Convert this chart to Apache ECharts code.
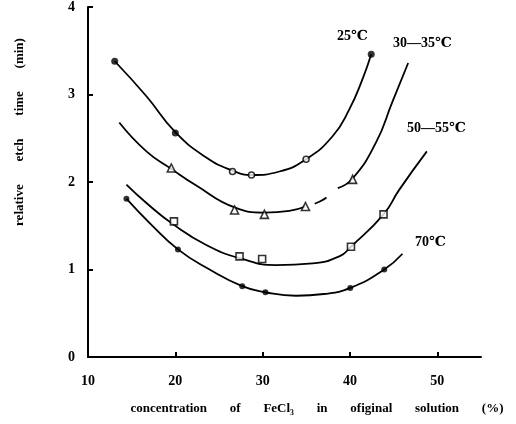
<!DOCTYPE html>
<html>
<head>
<meta charset="utf-8">
<script src="https://cdn.jsdelivr.net/npm/echarts@6/dist/echarts.min.js"></script>
<style>
html,body{margin:0;padding:0;background:#fff;}
#chart{width:516px;height:424px;}
</style>
</head>
<body>
<div id="chart"></div>
<script>
// ---- data ----
var xTicks = [10, 20, 30, 40, 50];
var yTicks = [0, 1, 2, 3, 4];

// fitted curves (x = FeCl3 %, y = relative etch time, min)
var curve25 = [[13.06,3.38],[16.69,2.98],[20.0,2.57],[23.54,2.28],[26.55,2.13],[28.72,2.08],[31.92,2.12],[34.97,2.26],[37.98,2.52],[39.92,2.83],[41.41,3.17],[42.43,3.46]];
var curve3035a = [[13.58,2.68],[16.69,2.35],[19.54,2.15],[22.4,1.96],[26.78,1.71],[30.2,1.65],[33.06,1.67],[34.9,1.72]];
var curve3035dash = [[34.9,1.72],[36.6,1.78],[38.0,1.88],[38.6,1.93]];
var curve3035b = [[38.6,1.93],[40.3,2.04],[42.97,2.45],[44.83,2.91],[46.66,3.36]];
var curve5055 = [[14.4,1.97],[16.69,1.76],[19.84,1.51],[23.54,1.28],[27.35,1.13],[31.54,1.05],[35.73,1.07],[38.78,1.15],[40.11,1.26],[43.84,1.63],[45.63,1.91],[48.8,2.35]];
var curve70 = [[14.4,1.81],[17.07,1.53],[20.3,1.23],[23.92,1.0],[27.66,0.81],[30.32,0.74],[33.83,0.70],[37.0,0.72],[40.03,0.79],[43.92,1.0],[46.01,1.18]];

// measured points
var pts25Filled = [[13.06,3.38],[20.0,2.56],[42.43,3.46]];
var pts25Open = [[26.55,2.12],[28.72,2.08],[34.97,2.26]];
var pts3035 = [[19.54,2.16],[26.78,1.68],[30.2,1.63],[34.9,1.72],[40.3,2.03]];
var pts5055 = [[19.84,1.55],[27.35,1.15],[29.94,1.12],[40.11,1.26],[43.84,1.63]];
var pts70 = [[14.4,1.81],[20.3,1.23],[27.66,0.81],[30.32,0.74],[40.03,0.79],[43.92,1.0]];

var seriesLabels = ['25℃', '30—35℃', '50—55℃', '70℃'];
var yTitle = 'relative       etch       time       (min)';
var xTitle = 'concentration       of       FeCl₃       in       ofiginal       solution       (%)';

// ---- chart ----
var chart = echarts.init(document.getElementById('chart'), null, {renderer: 'canvas'});
var serif = '"Liberation Serif", "DejaVu Serif", serif';

function curve(name, data, dash) {
  return {
    name: name, type: 'line', data: data, smooth: 0.5, symbol: 'none',
    lineStyle: dash ? {color: '#000', width: 1.8, type: [13, 20], dashOffset: 23}
                    : {color: '#000', width: 1.8},
    z: 2, silent: true
  };
}
function marks(name, data, symbol, size, filled) {
  return {
    name: name, type: 'scatter', data: data, symbol: symbol, symbolSize: size,
    itemStyle: {color: filled ? '#000' : '#fff', borderColor: '#000', borderWidth: filled ? 0 : 1.6},
    z: 3, silent: true
  };
}

var option = {
  backgroundColor: '#fff',
  animation: false,
  grid: {left: 88, right: 35, top: 7, bottom: 67},
  xAxis: {
    type: 'value', min: 10, max: 55, interval: 10,
    axisLine: {show: true, lineStyle: {color: '#000', width: 2}},
    axisTick: {show: true, inside: true, length: 5, lineStyle: {color: '#000', width: 2}, customValues: xTicks},
    axisLabel: {color: '#000', fontFamily: serif, fontWeight: 'bold', fontSize: 14, margin: 17, customValues: xTicks},
    splitLine: {show: false}
  },
  yAxis: {
    type: 'value', min: 0, max: 4, interval: 1,
    axisLine: {show: true, lineStyle: {color: '#000', width: 2}},
    axisTick: {show: true, inside: true, length: 5, lineStyle: {color: '#000', width: 2}, customValues: yTicks},
    axisLabel: {color: '#000', fontFamily: serif, fontWeight: 'bold', fontSize: 14, margin: 13, customValues: yTicks},
    splitLine: {show: false}
  },
  graphic: [
    {type: 'text', left: 337, top: 29, style: {text: seriesLabels[0], fontFamily: serif, fontWeight: 'bold', fontSize: 14, fill: '#000'}},
    {type: 'text', left: 393, top: 36, style: {text: seriesLabels[1], fontFamily: serif, fontWeight: 'bold', fontSize: 14, fill: '#000'}},
    {type: 'text', left: 407, top: 121, style: {text: seriesLabels[2], fontFamily: serif, fontWeight: 'bold', fontSize: 14, fill: '#000'}},
    {type: 'text', left: 415, top: 235, style: {text: seriesLabels[3], fontFamily: serif, fontWeight: 'bold', fontSize: 14, fill: '#000'}},
    {type: 'text', x: 20, y: 132, rotation: Math.PI / 2,
      style: {text: yTitle, fontFamily: serif, fontWeight: 'bold', fontSize: 13, fill: '#000', align: 'center', verticalAlign: 'middle'}},
    {type: 'text', x: 317, y: 409,
      style: {text: xTitle, fontFamily: serif, fontWeight: 'bold', fontSize: 13, fill: '#000', align: 'center', verticalAlign: 'middle'}}
  ],
  series: [
    curve('25℃', curve25),
    curve('30—35℃', curve3035a),
    curve('30—35℃ dashed', curve3035dash, true),
    curve('30—35℃ b', curve3035b),
    curve('50—55℃', curve5055),
    curve('70℃', curve70),
    marks('25℃ pts filled', pts25Filled, 'circle', 7, true),
    marks('25℃ pts open', pts25Open, 'circle', 6, false),
    marks('30—35℃ pts', pts3035, 'triangle', 8, false),
    marks('50—55℃ pts', pts5055, 'rect', 7, false),
    marks('70℃ pts', pts70, 'circle', 6, true)
  ]
};
chart.setOption(option);
</script>
</body>
</html>
